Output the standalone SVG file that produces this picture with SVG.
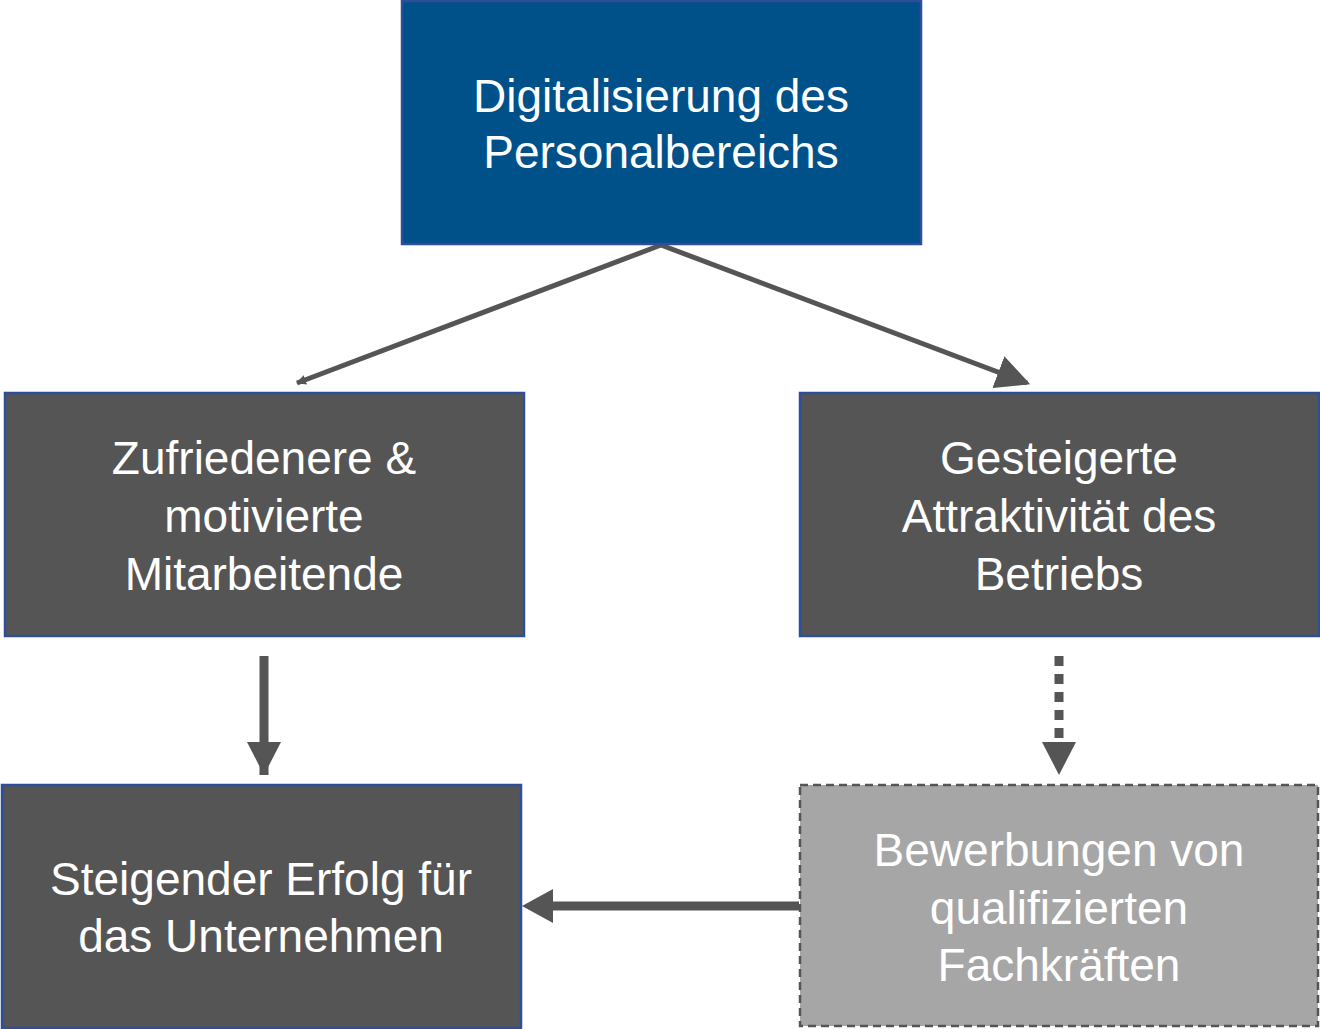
<svg xmlns="http://www.w3.org/2000/svg" width="1320" height="1029" viewBox="0 0 1320 1029">
<defs>
<style>
.t{font-family:"Liberation Sans",Arial,sans-serif;font-size:46px;fill:#fff;text-anchor:middle}
.dk{fill:#555555;stroke:#2F4E9A;stroke-width:2.5}
.ln{stroke:#555555;fill:none}
</style>
<marker id="ah" markerWidth="10" markerHeight="10" refX="9" refY="5" orient="auto" markerUnits="userSpaceOnUse" viewBox="0 0 10 10"><path d="M0,0L10,5L0,10Z" fill="#555555"/></marker>
<marker id="ab" viewBox="0 0 10 10" refX="9" refY="5" markerWidth="34" markerHeight="34" orient="auto" markerUnits="userSpaceOnUse"><path d="M0,0L10,5L0,10Z" fill="#555555"/></marker>
</defs>
<rect width="1320" height="1029" fill="#fff"/>
<g id="connectors">
<line class="ln" x1="661" y1="245" x2="297" y2="383" stroke-width="5" style="marker-end:url(#ah)" marker-end="url(#ab)"/>
<line class="ln" x1="661" y1="245" x2="1027" y2="383" stroke-width="5" marker-end="url(#ab)"/>
<line class="ln" x1="264" y1="656" x2="264" y2="775" stroke-width="9"/>
<path d="M247,742L281,742L264,775Z" fill="#555"/>
<line class="ln" x1="1059" y1="656" x2="1059" y2="744" stroke-width="9" stroke-dasharray="10,8"/>
<path d="M1042,742L1076,742L1059,775Z" fill="#555"/>
<line class="ln" x1="799" y1="906" x2="550" y2="906" stroke-width="9"/>
<path d="M553,889L553,923L522,906Z" fill="#555"/>
</g>
<g id="top"><rect x="402" y="1" width="519" height="243" fill="#00508A" stroke="#2F4E9A" stroke-width="2.5"/>
<text class="t" x="661" y="112">Digitalisierung des</text><text class="t" x="661" y="168">Personalbereichs</text></g>
<g id="left"><rect class="dk" x="5" y="393" width="519" height="243"/>
<text class="t" x="264" y="474">Zufriedenere &amp;</text><text class="t" x="264" y="532">motivierte</text><text class="t" x="264" y="590">Mitarbeitende</text></g>
<g id="right"><rect class="dk" x="800" y="393" width="519" height="243"/>
<text class="t" x="1059" y="474">Gesteigerte</text><text class="t" x="1059" y="532">Attraktivität des</text><text class="t" x="1059" y="590">Betriebs</text></g>
<g id="success"><rect class="dk" x="2" y="785" width="519" height="243"/>
<text class="t" x="261" y="895">Steigender Erfolg für</text><text class="t" x="261" y="952">das Unternehmen</text></g>
<g id="apps"><rect x="800" y="785" width="518" height="241" fill="#A6A6A6" stroke="#555555" stroke-width="2.5" stroke-dasharray="8,5"/>
<text class="t" x="1059" y="866">Bewerbungen von</text><text class="t" x="1059" y="924">qualifizierten</text><text class="t" x="1059" y="981">Fachkräften</text></g>
</svg>
